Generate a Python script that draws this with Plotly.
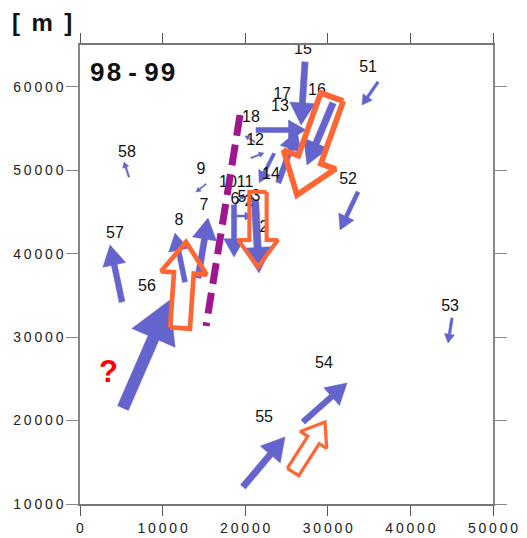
import numpy as np
import plotly.graph_objects as go

# Station displacement vectors (tail position and displacement, metres)
blue_x0 = [5200, 5090, 12710, 14290, 15260, 5930, 27240, 30630, 21310, 24000, 23500,
           18650, 21190, 18770, 18400, 21190, 20700, 19730, 27000, 45040, 33660, 36080]
blue_y0 = [21500, 34210, 36600, 37080, 48350, 49180, 62970, 58050, 54820, 48500, 52000,
           45830, 46430, 45830, 44500, 53380, 51460, 12040, 19830, 32290, 47390, 60570]
blue_dx = [5690, -1450, -1210, 1210, -1210, -600, -480, -3150, 6050, 2300, -1800,
           0, 480, 1090, 2420, -1200, 1560, 5090, 5330, -480, -2180, -1940]
blue_dy = [12940, 6830, 5870, 7190, -960, 1800, -7550, -7430, 0, 6200, -3500,
           -6230, -8750, 1320, 0, 720, 600, 5990, 4670, -3000, -4550, -2760]

# Second campaign vectors (hollow arrows)
orange_x0 = [30510, 12110, 21550, 25790]
orange_y0 = [58770, 31090, 47390, 13840]
orange_dx = [-4240, 730, 0, 3870]
orange_dy = [-11740, 10310, -8990, 5990]

# Fault trace
fault_x = [19370, 15260]
fault_y = [56610, 31330]

# Station labels
label_text = ["15", "51", "17", "16", "13", "18", "12", "58", "52", "9", "14", "10", "11",
              "6", "5", "2", "3", "2", "7", "8", "57", "56", "53", "54", "55"]
label_x = [27000, 34870, 24460, 28690, 24210, 20700, 21190, 5690, 32450, 14650, 23120,
           17920, 19980, 18770, 19610, 20460, 21310, 22280, 15010, 11990, 4240, 8110,
           44800, 29540, 22280]
label_y = [64400, 62250, 59010, 59490, 57570, 56250, 53500, 52060, 48830, 50020, 49420,
           48470, 48470, 46430, 46670, 46190, 46790, 43070, 45710, 43910, 42350, 36000,
           33610, 26780, 20310]

x_ticks = [0, 10000, 20000, 30000, 40000, 50000]
y_ticks = [10000, 20000, 30000, 40000, 50000, 60000]

X_RANGE = [0, 50000]
Y_RANGE = [10000, 65000]
PLOT_W, PLOT_H = 413, 459
KY = (PLOT_H / (Y_RANGE[1] - Y_RANGE[0])) / (PLOT_W / (X_RANGE[1] - X_RANGE[0]))


def arrow_outline(x0, y0, dx, dy, shaft, head_w, head_l):
    """Arrow polygon with dimensions proportional to its length."""
    # work in a space where both axes have the same on-screen scale
    ux, uy = dx, dy * KY
    L = np.hypot(ux, uy)
    ex, ey = ux / L, uy / L
    nx, ny = -ey, ex
    sw, hw, hl = shaft * L / 2, head_w * L / 2, head_l * L
    bx, by = ux - ex * hl, uy - ey * hl
    pts = [(nx * sw, ny * sw), (bx + nx * sw, by + ny * sw), (bx + nx * hw, by + ny * hw),
           (ux, uy), (bx - nx * hw, by - ny * hw), (bx - nx * sw, by - ny * sw),
           (-nx * sw, -ny * sw), (nx * sw, ny * sw)]
    xs = [x0 + p[0] for p in pts]
    ys = [y0 + p[1] / KY for p in pts]
    return xs, ys


fig = go.Figure()

BLUE = "#6464CC"
ORANGE = "#FF6633"
FONT = "Liberation Sans"

for x0, y0, dx, dy in zip(blue_x0, blue_y0, blue_dx, blue_dy):
    xs, ys = arrow_outline(x0, y0, dx, dy, 0.10, 0.40, 0.35)
    fig.add_trace(go.Scatter(x=xs, y=ys, mode="lines", fill="toself", fillcolor=BLUE,
                             line=dict(color=BLUE, width=0.5), hoverinfo="skip",
                             showlegend=False))

fig.add_trace(go.Scatter(x=label_x, y=label_y, mode="text", text=label_text,
                         textfont=dict(family=FONT, size=16, color="#111111"),
                         hoverinfo="skip", showlegend=False))

for x0, y0, dx, dy in zip(orange_x0, orange_y0, orange_dx, orange_dy):
    L_px = np.hypot(dx * PLOT_W / 50000, dy * PLOT_H / 55000)
    xs, ys = arrow_outline(x0, y0, dx, dy, 0.23, 0.53, 0.36)
    fig.add_trace(go.Scatter(x=xs, y=ys, mode="lines",
                             line=dict(color=ORANGE, width=0.055 * L_px),
                             hoverinfo="skip", showlegend=False))

fig.add_trace(go.Scatter(x=fault_x, y=fault_y, mode="lines",
                         line=dict(color="#A0168F", width=7, dash="21px,9px"),
                         hoverinfo="skip", showlegend=False))

fig.add_annotation(x=3510, y=25820, text="<b>?</b>", showarrow=False,
                   xanchor="center", yanchor="middle",
                   font=dict(family=FONT, size=31, color="#FF0000"))
fig.add_annotation(x=0.126, y=0.941, xref="paper", yref="paper",
                   text="<b>9\u200a8 - 9\u200a9</b>", showarrow=False,
                   xanchor="center", yanchor="middle",
                   font=dict(family=FONT, size=26, color="#111111"))
fig.add_annotation(x=-0.092, y=1.048, xref="paper", yref="paper",
                   text="<b>[\u00a0\u2009m\u2009\u00a0]</b>", showarrow=False,
                   xanchor="center", yanchor="middle",
                   font=dict(family=FONT, size=24, color="#111111"))

spaced = lambda v: "\u2009".join(str(v))

fig.update_xaxes(range=X_RANGE, tickvals=x_ticks, ticktext=[spaced(v) for v in x_ticks],
                 showgrid=False, zeroline=False, showline=True, linecolor="#777777",
                 linewidth=1.5, mirror="ticks", ticks="outside", ticklen=10,
                 tickcolor="#555555", automargin=False,
                 tickfont=dict(family=FONT, size=14, color="#222222"))
fig.update_yaxes(range=Y_RANGE, tickvals=y_ticks, ticktext=[spaced(v) for v in y_ticks],
                 showgrid=False, zeroline=False, showline=True, linecolor="#888888",
                 linewidth=1.5, mirror="ticks", ticks="outside", ticklen=12,
                 tickcolor="#888888", automargin=False,
                 tickfont=dict(family=FONT, size=14, color="#222222"))

fig.update_layout(width=527, height=538, margin=dict(l=80, r=34, t=45, b=34),
                  plot_bgcolor="white", paper_bgcolor="white")

fig.write_html("out.html")
